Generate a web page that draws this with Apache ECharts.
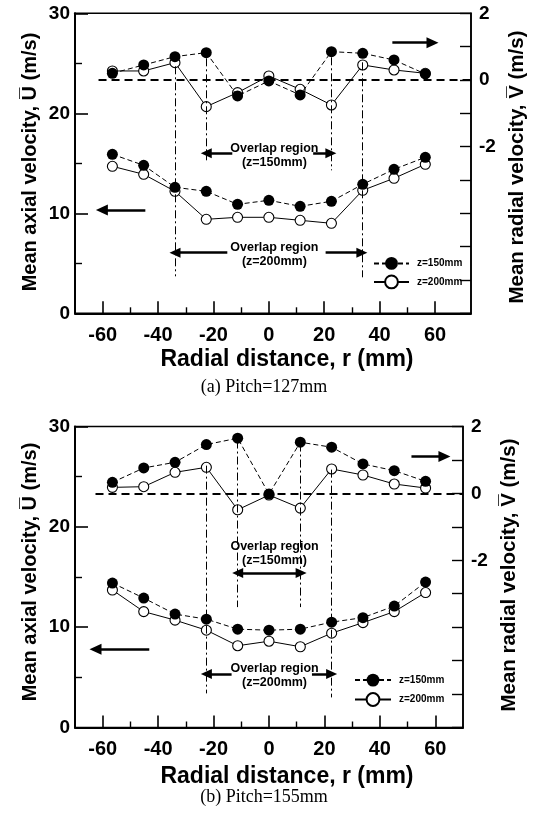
<!DOCTYPE html>
<html>
<head>
<meta charset="utf-8">
<script src="https://cdn.jsdelivr.net/npm/echarts@6/dist/echarts.min.js"></script>
<style>
  html, body { margin: 0; padding: 0; background: #fff; }
  #chart { width: 535px; height: 814px; }
</style>
</head>
<body>
<div id="chart"></div>
<script>
// Radial measurement stations (mm)
const radialPositions = [-56.5, -45.2, -33.9, -22.6, -11.3, 0, 11.3, 22.6, 33.9, 45.2, 56.5];

// (a) Pitch = 127 mm
const axialA150 = [15.9, 14.8, 12.6, 12.2, 10.9, 11.3, 10.7, 11.2, 12.9, 14.4, 15.6];
const axialA200 = [14.7, 13.9, 12.2, 9.4, 9.6, 9.6, 9.3, 9.0, 12.3, 13.5, 14.9];
const radialA150 = [0.2, 0.45, 0.7, 0.82, -0.48, -0.03, -0.45, 0.85, 0.8, 0.6, 0.18];
const radialA200 = [0.27, 0.27, 0.52, -0.8, -0.38, 0.12, -0.28, -0.75, 0.45, 0.3, 0.2];

// (b) Pitch = 155 mm
const axialB150 = [14.4, 12.9, 11.3, 10.8, 9.8, 9.7, 9.8, 10.5, 10.95, 12.1, 14.5];
const axialB200 = [13.7, 11.55, 10.7, 9.7, 8.15, 8.6, 8.05, 9.4, 10.45, 11.55, 13.45];
const radialB150 = [0.33, 0.76, 0.93, 1.46, 1.65, -0.02, 1.53, 1.38, 0.88, 0.68, 0.36];
const radialB200 = [0.18, 0.2, 0.63, 0.78, -0.49, -0.05, -0.44, 0.73, 0.55, 0.28, 0.16];

// Axis ticks
const xMajorTicks = [-60, -40, -20, 0, 20, 40, 60];
const xMinorTicks = [-50, -30, -10, 10, 30, 50];
const radialTickLabels = [2, 0, -2];

const seriesNames = ['z=150mm', 'z=200mm'];
const xTitle = 'Radial distance, r (mm)';
const leftTitle = 'Mean axial velocity, U\u0305 (m/s)';
const rightTitle = 'Mean radial velocity, V\u0305 (m/s)';
const captions = ['(a) Pitch=127mm', '(b) Pitch=155mm'];

const FONT = "'Liberation Sans', Arial, Helvetica, sans-serif";
const SERIF = "'Liberation Serif', 'Times New Roman', serif";
const BLACK = '#000';

const pairs = (ys) => radialPositions.map((x, i) => [x, ys[i]]);

const chart = echarts.init(document.getElementById('chart'), null, { renderer: 'canvas' });

function xAxesFor(g, max) {
  return [
    {
      type: 'value', gridIndex: g, min: -70, max: max, position: 'bottom',
      axisLine: { show: true, onZero: false, lineStyle: { color: BLACK, width: 2 } },
      axisTick: { show: true, inside: true, length: 12, customValues: xMajorTicks, lineStyle: { color: BLACK, width: 1.6 } },
      axisLabel: { customValues: xMajorTicks, margin: 12, fontSize: 20, fontWeight: 'bold', fontFamily: FONT, color: BLACK },
      splitLine: { show: false }
    },
    {
      type: 'value', gridIndex: g, min: -70, max: max, position: 'bottom',
      axisLine: { show: false },
      axisTick: { show: true, inside: true, length: 6, customValues: xMinorTicks, lineStyle: { color: BLACK, width: 1.4 } },
      axisLabel: { show: false },
      splitLine: { show: false }
    }
  ];
}

function yAxesFor(g) {
  return [
    {
      type: 'value', gridIndex: g, position: 'left', min: 0, max: 30, interval: 10,
      axisLine: { show: true, onZero: false, lineStyle: { color: BLACK, width: 2 } },
      axisTick: { show: true, inside: true, length: 13, lineStyle: { color: BLACK, width: 1.6 } },
      minorTick: { show: true, splitNumber: 2, length: 7, lineStyle: { color: BLACK, width: 1.4 } },
      axisLabel: { margin: 5, fontSize: 19, fontWeight: 'bold', fontFamily: FONT, color: BLACK },
      splitLine: { show: false }, minorSplitLine: { show: false }
    },
    {
      type: 'value', gridIndex: g, position: 'right', min: -7, max: 2, interval: 1,
      axisLine: { show: true, onZero: false, lineStyle: { color: BLACK, width: 1.6 } },
      axisTick: { show: true, inside: true, length: 11, lineStyle: { color: BLACK, width: 1.4 } },
      axisLabel: {
        margin: 8, fontSize: 19, fontWeight: 'bold', fontFamily: FONT, color: BLACK,
        formatter: (v) => (radialTickLabels.indexOf(v) >= 0 ? String(v) : '')
      },
      splitLine: { show: false }
    }
  ];
}

const filledStyle = {
  symbol: 'circle', symbolSize: 11,
  itemStyle: { color: BLACK, borderColor: BLACK, borderWidth: 0 },
  lineStyle: { color: BLACK, width: 1, type: [5, 3] }
};
const openStyle = {
  symbol: 'circle', symbolSize: 10,
  itemStyle: { color: '#fff', borderColor: BLACK, borderWidth: 1.1 },
  lineStyle: { color: BLACK, width: 1, type: 'solid' }
};

const dashDot = { color: BLACK, width: 1, type: [8, 3, 2, 3] };
const arrowShaft = { color: BLACK, width: 2.5, type: 'solid' };

function vline(x, y1, y2) {
  return [{ coord: [x, y1], symbol: 'none', lineStyle: dashDot }, { coord: [x, y2], symbol: 'none' }];
}
function arrow(x1, x2, y, head) {
  return [
    { coord: [x1, y], symbol: 'none', lineStyle: arrowShaft },
    { coord: [x2, y], symbol: 'triangle', symbolSize: head || [10, 11] }
  ];
}
function dblArrow(x1, x2, y) {
  return [
    { coord: [x1, y], symbol: 'triangle', symbolSize: [10, 11], lineStyle: arrowShaft },
    { coord: [x2, y], symbol: 'triangle', symbolSize: [10, 11] }
  ];
}
function note(x, y, text) {
  return {
    coord: [x, y], symbol: 'circle', symbolSize: 0,
    itemStyle: { color: 'rgba(0,0,0,0)' },
    label: {
      show: true, position: 'inside', formatter: text, color: BLACK,
      fontSize: 12.5, fontWeight: 'bold', fontFamily: FONT, lineHeight: 14, align: 'center'
    }
  };
}

function panelSeries(p, d) {
  const xi = p * 2, yu = p * 2, yv = p * 2 + 1;
  return [
    Object.assign({ type: 'line', name: seriesNames[1], xAxisIndex: xi, yAxisIndex: yu, data: pairs(d.u200), z: 3 }, openStyle),
    Object.assign({
      type: 'line', name: seriesNames[0], xAxisIndex: xi, yAxisIndex: yu, data: pairs(d.u150), z: 4,
      markLine: { silent: true, symbol: 'none', label: { show: false }, emphasis: { disabled: true }, data: d.lines },
      markPoint: { silent: true, data: d.notes }
    }, filledStyle),
    Object.assign({ type: 'line', name: seriesNames[1], xAxisIndex: xi, yAxisIndex: yv, data: pairs(d.v200), z: 3 }, openStyle),
    Object.assign({
      type: 'line', name: seriesNames[0], xAxisIndex: xi, yAxisIndex: yv, data: pairs(d.v150), z: 4,
      markLine: {
        silent: true, symbol: 'none', label: { show: false }, emphasis: { disabled: true },
        data: [[{ coord: [d.zeroFrom, 0], lineStyle: { color: BLACK, width: 2, type: [8, 5] } }, { coord: [d.zeroTo, 0] }]]
      }
    }, filledStyle)
  ];
}

const panelA = {
  u150: axialA150, u200: axialA200, v150: radialA150, v200: radialA200,
  zeroFrom: -61.5, zeroTo: 73,
  lines: [
    vline(-33.9, 24.7, 3.7), vline(-22.6, 25.5, 15.3), vline(22.6, 25.6, 14.3), vline(33.9, 25.1, 3.6),
    arrow(-13.2, -22.6, 16.0), arrow(16, 22.4, 16.0),
    arrow(-15, -33.9, 6.06), arrow(20.5, 33.6, 6.06),
    arrow(-44.6, -60.3, 10.33, [11, 12]), arrow(44.6, 59.1, 27.06, [11, 12])
  ],
  notes: [note(2, 15.75, 'Overlap region\n(z=150mm)'), note(2, 5.83, 'Overlap region\n(z=200mm)')]
};

const panelB = {
  u150: axialB150, u200: axialB200, v150: radialB150, v200: radialB200,
  zeroFrom: -62.6, zeroTo: 70,
  lines: [
    vline(-22.6, 26.1, 3.4), vline(-11.3, 28.6, 12.0), vline(11.3, 28.3, 12.0), vline(22.6, 25.7, 3.0),
    dblArrow(-11.3, 11.6, 15.4),
    arrow(-13.5, -22.6, 5.33), arrow(15.5, 22.6, 5.33),
    arrow(-43.2, -62.6, 7.8, [11, 12]), arrow(51.4, 63.3, 27.0, [11, 12])
  ],
  notes: [note(2, 17.3, 'Overlap region\n(z=150mm)'), note(2, 5.18, 'Overlap region\n(z=200mm)')]
};

function titleText(x, y, text, size, rotate, family, weight) {
  return {
    type: 'text', x: x, y: y, rotation: rotate ? Math.PI / 2 : 0, silent: true,
    style: {
      text: text, fill: BLACK, align: 'center', verticalAlign: 'middle',
      font: (weight || 'bold') + ' ' + size + 'px ' + (family || FONT)
    }
  };
}

const legendBase = {
  data: seriesNames, orient: 'vertical', selectedMode: false,
  itemHeight: 16,
  textStyle: { fontSize: 10, fontWeight: 'bold', fontFamily: FONT, color: BLACK, padding: [0, 0, 0, 3] }
};

chart.setOption({
  animation: false,
  backgroundColor: '#fff',
  textStyle: { fontFamily: FONT },
  grid: [
    { left: 75, top: 13.3, width: 396, height: 300, show: true, borderColor: BLACK, borderWidth: 1.5, backgroundColor: 'transparent' },
    { left: 75, top: 426.5, width: 388, height: 301, show: true, borderColor: BLACK, borderWidth: 1.5, backgroundColor: 'transparent' }
  ],
  xAxis: [].concat(xAxesFor(0, 73), xAxesFor(1, 70)),
  yAxis: [].concat(yAxesFor(0), yAxesFor(1)),
  legend: [
    Object.assign({}, legendBase, { left: 368, top: 252, itemWidth: 35, itemGap: 4.7 }),
    Object.assign({}, legendBase, { left: 349, top: 668.7, itemWidth: 36, itemGap: 5.6 })
  ],
  series: [].concat(panelSeries(0, panelA), panelSeries(1, panelB)),
  graphic: [
    titleText(30, 162, leftTitle, 20, true),
    titleText(517, 167, rightTitle, 20.5, true),
    titleText(287, 360, xTitle, 23, false),
    titleText(264, 387, captions[0], 18, false, SERIF, 'normal'),
    titleText(30, 572, leftTitle, 20, true),
    titleText(509, 575, rightTitle, 20.5, true),
    titleText(287, 777, xTitle, 23, false),
    titleText(264, 797, captions[1], 18, false, SERIF, 'normal')
  ]
});
</script>
</body>
</html>
